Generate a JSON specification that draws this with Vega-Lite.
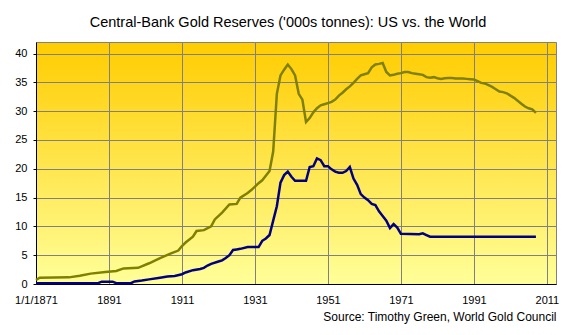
{
  "$schema": "https://vega.github.io/schema/vega-lite/v6.json",
  "autosize": {"type": "none"},
  "width": 520,
  "height": 242,
  "padding": {"left": 36, "top": 42, "right": 20, "bottom": 51},
  "background": "white",
  "title": {
    "text": "Central-Bank Gold Reserves ('000s tonnes): US vs. the World",
    "font": "Liberation Sans",
    "fontSize": 14.5,
    "fontWeight": "normal",
    "color": "black",
    "offset": 12,
    "dx": -8
  },
  "config": {
    "font": "Liberation Sans",
    "view": {
      "stroke": "#808080",
      "strokeWidth": 1,
      "fill": {
        "gradient": "linear",
        "x1": 0, "y1": 0, "x2": 0, "y2": 1,
        "stops": [
          {"offset": 0, "color": "#FFCC00"},
          {"offset": 1, "color": "#FFFF99"}
        ]
      }
    },
    "axis": {
      "domainColor": "black",
      "domainWidth": 1,
      "gridColor": "#808080",
      "gridWidth": 1,
      "gridOpacity": 1,
      "labelFont": "Liberation Sans",
      "labelFontSize": 11,
      "labelColor": "black",
      "tickColor": "black"
    }
  },
  "data": {
    "values": [
      {"year": 1871, "series": "World", "value": 0.7},
      {"year": 1872, "series": "World", "value": 1.1},
      {"year": 1880, "series": "World", "value": 1.15},
      {"year": 1883, "series": "World", "value": 1.45},
      {"year": 1886, "series": "World", "value": 1.8},
      {"year": 1890, "series": "World", "value": 2.1},
      {"year": 1893, "series": "World", "value": 2.25},
      {"year": 1895, "series": "World", "value": 2.7},
      {"year": 1899, "series": "World", "value": 2.8},
      {"year": 1902, "series": "World", "value": 3.6},
      {"year": 1905, "series": "World", "value": 4.5},
      {"year": 1908, "series": "World", "value": 5.3},
      {"year": 1910, "series": "World", "value": 5.8},
      {"year": 1911, "series": "World", "value": 6.6},
      {"year": 1912, "series": "World", "value": 7.2},
      {"year": 1914, "series": "World", "value": 8.2},
      {"year": 1915, "series": "World", "value": 9.2},
      {"year": 1917, "series": "World", "value": 9.35},
      {"year": 1919, "series": "World", "value": 10.0},
      {"year": 1920, "series": "World", "value": 11.2},
      {"year": 1922, "series": "World", "value": 12.4},
      {"year": 1924, "series": "World", "value": 13.8},
      {"year": 1926, "series": "World", "value": 13.9},
      {"year": 1927, "series": "World", "value": 15.0},
      {"year": 1929, "series": "World", "value": 15.8},
      {"year": 1930, "series": "World", "value": 16.3},
      {"year": 1932, "series": "World", "value": 17.5},
      {"year": 1933, "series": "World", "value": 18.0},
      {"year": 1935, "series": "World", "value": 19.6},
      {"year": 1936, "series": "World", "value": 23.0},
      {"year": 1937, "series": "World", "value": 33.0},
      {"year": 1938, "series": "World", "value": 36.2},
      {"year": 1939, "series": "World", "value": 37.2},
      {"year": 1940, "series": "World", "value": 38.1},
      {"year": 1941, "series": "World", "value": 37.3},
      {"year": 1942, "series": "World", "value": 36.2},
      {"year": 1943, "series": "World", "value": 33.0},
      {"year": 1944, "series": "World", "value": 32.0},
      {"year": 1945, "series": "World", "value": 28.1},
      {"year": 1946, "series": "World", "value": 28.8},
      {"year": 1947, "series": "World", "value": 29.8},
      {"year": 1948, "series": "World", "value": 30.5},
      {"year": 1949, "series": "World", "value": 31.0},
      {"year": 1950, "series": "World", "value": 31.2},
      {"year": 1951, "series": "World", "value": 31.4},
      {"year": 1952, "series": "World", "value": 31.6},
      {"year": 1953, "series": "World", "value": 32.0},
      {"year": 1954, "series": "World", "value": 32.7},
      {"year": 1955, "series": "World", "value": 33.2},
      {"year": 1956, "series": "World", "value": 33.8},
      {"year": 1957, "series": "World", "value": 34.3},
      {"year": 1958, "series": "World", "value": 34.9},
      {"year": 1959, "series": "World", "value": 35.6},
      {"year": 1960, "series": "World", "value": 36.2},
      {"year": 1961, "series": "World", "value": 36.4},
      {"year": 1962, "series": "World", "value": 36.6},
      {"year": 1963, "series": "World", "value": 37.6},
      {"year": 1964, "series": "World", "value": 38.1},
      {"year": 1965, "series": "World", "value": 38.2},
      {"year": 1966, "series": "World", "value": 38.35},
      {"year": 1967, "series": "World", "value": 36.8},
      {"year": 1968, "series": "World", "value": 36.2},
      {"year": 1969, "series": "World", "value": 36.3},
      {"year": 1970, "series": "World", "value": 36.5},
      {"year": 1971, "series": "World", "value": 36.6},
      {"year": 1972, "series": "World", "value": 36.8},
      {"year": 1973, "series": "World", "value": 36.8},
      {"year": 1974, "series": "World", "value": 36.6},
      {"year": 1975, "series": "World", "value": 36.5},
      {"year": 1976, "series": "World", "value": 36.4},
      {"year": 1977, "series": "World", "value": 36.3},
      {"year": 1978, "series": "World", "value": 35.9},
      {"year": 1979, "series": "World", "value": 35.8},
      {"year": 1980, "series": "World", "value": 35.9},
      {"year": 1981, "series": "World", "value": 35.7},
      {"year": 1982, "series": "World", "value": 35.6},
      {"year": 1983, "series": "World", "value": 35.7},
      {"year": 1984, "series": "World", "value": 35.75},
      {"year": 1985, "series": "World", "value": 35.75},
      {"year": 1986, "series": "World", "value": 35.65},
      {"year": 1987, "series": "World", "value": 35.65},
      {"year": 1988, "series": "World", "value": 35.65},
      {"year": 1989, "series": "World", "value": 35.6},
      {"year": 1990, "series": "World", "value": 35.55},
      {"year": 1991, "series": "World", "value": 35.5},
      {"year": 1992, "series": "World", "value": 35.2},
      {"year": 1993, "series": "World", "value": 34.9},
      {"year": 1994, "series": "World", "value": 34.8},
      {"year": 1995, "series": "World", "value": 34.5},
      {"year": 1996, "series": "World", "value": 34.2},
      {"year": 1997, "series": "World", "value": 33.8},
      {"year": 1998, "series": "World", "value": 33.4},
      {"year": 1999, "series": "World", "value": 33.3},
      {"year": 2000, "series": "World", "value": 33.1},
      {"year": 2001, "series": "World", "value": 32.7},
      {"year": 2002, "series": "World", "value": 32.3},
      {"year": 2003, "series": "World", "value": 31.8},
      {"year": 2004, "series": "World", "value": 31.3},
      {"year": 2005, "series": "World", "value": 30.8},
      {"year": 2006, "series": "World", "value": 30.5},
      {"year": 2007, "series": "World", "value": 30.3},
      {"year": 2008, "series": "World", "value": 29.7},
      {"year": 1871, "series": "US", "value": 0.15},
      {"year": 1888, "series": "US", "value": 0.15},
      {"year": 1889, "series": "US", "value": 0.4},
      {"year": 1892, "series": "US", "value": 0.4},
      {"year": 1893, "series": "US", "value": 0.15},
      {"year": 1897, "series": "US", "value": 0.15},
      {"year": 1898, "series": "US", "value": 0.45},
      {"year": 1900, "series": "US", "value": 0.6},
      {"year": 1902, "series": "US", "value": 0.8},
      {"year": 1905, "series": "US", "value": 1.1},
      {"year": 1907, "series": "US", "value": 1.3},
      {"year": 1909, "series": "US", "value": 1.4},
      {"year": 1911, "series": "US", "value": 1.7},
      {"year": 1912, "series": "US", "value": 2.0},
      {"year": 1914, "series": "US", "value": 2.4},
      {"year": 1916, "series": "US", "value": 2.6},
      {"year": 1917, "series": "US", "value": 2.8},
      {"year": 1918, "series": "US", "value": 3.2},
      {"year": 1919, "series": "US", "value": 3.5},
      {"year": 1921, "series": "US", "value": 3.9},
      {"year": 1922, "series": "US", "value": 4.1},
      {"year": 1923, "series": "US", "value": 4.5},
      {"year": 1924, "series": "US", "value": 5.0},
      {"year": 1925, "series": "US", "value": 5.9},
      {"year": 1926, "series": "US", "value": 6.0},
      {"year": 1927, "series": "US", "value": 6.1},
      {"year": 1929, "series": "US", "value": 6.4},
      {"year": 1932, "series": "US", "value": 6.4},
      {"year": 1933, "series": "US", "value": 7.5},
      {"year": 1934, "series": "US", "value": 7.9},
      {"year": 1935, "series": "US", "value": 8.5},
      {"year": 1936, "series": "US", "value": 11.0},
      {"year": 1937, "series": "US", "value": 13.5},
      {"year": 1938, "series": "US", "value": 17.6},
      {"year": 1939, "series": "US", "value": 18.9},
      {"year": 1940, "series": "US", "value": 19.5},
      {"year": 1941, "series": "US", "value": 18.6},
      {"year": 1942, "series": "US", "value": 17.9},
      {"year": 1945, "series": "US", "value": 17.9},
      {"year": 1946, "series": "US", "value": 20.3},
      {"year": 1947, "series": "US", "value": 20.45},
      {"year": 1948, "series": "US", "value": 21.8},
      {"year": 1949, "series": "US", "value": 21.5},
      {"year": 1950, "series": "US", "value": 20.45},
      {"year": 1951, "series": "US", "value": 20.45},
      {"year": 1952, "series": "US", "value": 19.9},
      {"year": 1953, "series": "US", "value": 19.5},
      {"year": 1954, "series": "US", "value": 19.3},
      {"year": 1955, "series": "US", "value": 19.3},
      {"year": 1956, "series": "US", "value": 19.6},
      {"year": 1957, "series": "US", "value": 20.3},
      {"year": 1958, "series": "US", "value": 18.3},
      {"year": 1959, "series": "US", "value": 17.2},
      {"year": 1960, "series": "US", "value": 15.6},
      {"year": 1961, "series": "US", "value": 15.0},
      {"year": 1962, "series": "US", "value": 14.55},
      {"year": 1963, "series": "US", "value": 13.9},
      {"year": 1964, "series": "US", "value": 13.7},
      {"year": 1965, "series": "US", "value": 12.6},
      {"year": 1966, "series": "US", "value": 11.8},
      {"year": 1967, "series": "US", "value": 11.0},
      {"year": 1968, "series": "US", "value": 9.7},
      {"year": 1969, "series": "US", "value": 10.4},
      {"year": 1970, "series": "US", "value": 9.8},
      {"year": 1971, "series": "US", "value": 8.7},
      {"year": 1976, "series": "US", "value": 8.65},
      {"year": 1977, "series": "US", "value": 8.8},
      {"year": 1978, "series": "US", "value": 8.5},
      {"year": 1979, "series": "US", "value": 8.2},
      {"year": 2008, "series": "US", "value": 8.2}
    ]
  },
  "mark": {"type": "line", "strokeWidth": 2.5, "interpolate": "linear"},
  "encoding": {
    "x": {
      "field": "year",
      "type": "quantitative",
      "scale": {"domain": [1871, 2013.5], "nice": false, "zero": false},
      "axis": {
        "values": [1871, 1891, 1911, 1931, 1951, 1971, 1991, 2011],
        "labelExpr": "datum.value == 1871 ? '1/1/1871' : datum.value",
        "labelFlush": false,
        "labelPadding": 10,
        "ticks": false,
        "grid": true,
        "title": "Source: Timothy Green, World Gold Council",
        "titleAnchor": "end",
        "titleFont": "Liberation Sans",
        "titleFontSize": 12,
        "titleFontWeight": "normal",
        "titleColor": "black",
        "titlePadding": 6
      }
    },
    "y": {
      "field": "value",
      "type": "quantitative",
      "scale": {"domain": [0, 42], "nice": false},
      "axis": {
        "values": [0, 5, 10, 15, 20, 25, 30, 35, 40],
        "tickSize": 3,
        "labelPadding": 6,
        "grid": true,
        "title": null
      }
    },
    "color": {
      "field": "series",
      "type": "nominal",
      "scale": {"domain": ["World", "US"], "range": ["#808000", "#000080"]},
      "legend": null
    }
  }
}
